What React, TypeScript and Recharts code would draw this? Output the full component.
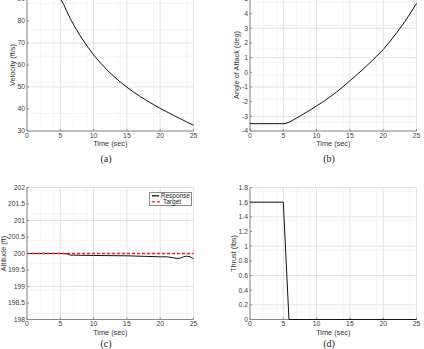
// Four-panel flight response: velocity, angle of attack, altitude hold, thrust.
import { CartesianGrid, Legend, Line, LineChart, XAxis, YAxis } from "recharts";

const timeTicks = [0, 5, 10, 15, 20, 25];

// (a) velocity
const velTime = [0, 5, 5.5, 6, 6.5, 7, 7.5, 8, 9, 10, 11, 12, 13, 14, 15, 16, 17, 18, 19, 20, 21, 22, 23, 24, 25];
const velocity = [90, 90, 87.6, 84.2, 81.1, 78.3, 75.7, 73.2, 68.7, 64.6, 61.0, 57.8, 54.9, 52.3, 49.9, 47.7, 45.7, 43.8, 42.0, 40.3, 38.7, 37.1, 35.6, 34.1, 32.6];
const velTicks = [30, 40, 50, 60, 70, 80, 90];

// (b) angle of attack
const aoaTime = [0, 5, 5.4, 6, 7, 8, 9, 10, 11, 12, 13, 14, 15, 16, 17, 18, 19, 20, 21, 22, 23, 24, 25];
const aoa = [-3.5, -3.5, -3.48, -3.37, -3.12, -2.85, -2.58, -2.29, -2.0, -1.68, -1.34, -0.97, -0.58, -0.18, 0.22, 0.65, 1.09, 1.55, 2.1, 2.68, 3.3, 3.97, 4.7];
const aoaTicks = [-4, -3, -2, -1, 0, 1, 2, 3, 4, 5];

// (c) altitude
const altTime = [0, 5, 6, 6.5, 7, 10, 15, 20, 21, 22, 22.5, 23, 23.5, 24, 24.5, 25];
const altitude = [200, 200, 199.99, 199.95, 199.95, 199.94, 199.93, 199.9, 199.9, 199.87, 199.85, 199.86, 199.9, 199.92, 199.9, 199.84];
const targetTime = [0, 25];
const targetAlt = [200, 200];
const altTicks = [198, 198.5, 199, 199.5, 200, 200.5, 201, 201.5, 202];

// (d) thrust
const thrustTime = [0, 5, 5.85, 25];
const thrust = [1.6, 1.6, 0, 0];
const thrustTicks = [0, 0.2, 0.4, 0.6, 0.8, 1, 1.2, 1.4, 1.6, 1.8];

const rows = (t: number[], v: number[], key: string) => t.map((x, i) => ({ t: x, [key]: v[i] }));

// minor grid: split each major interval
const minorOf = (ticks: number[], n: number) => {
  const out: number[] = [];
  for (let i = 0; i < ticks.length - 1; i++)
    for (let k = 1; k < n; k++) out.push(ticks[i] + ((ticks[i + 1] - ticks[i]) * k) / n);
  return out;
};

const SANS = "'Liberation Sans', Arial, sans-serif";
const tickStyle = { fontSize: 6.8, fill: "#404040", fontFamily: SANS };
const BOX = "#8a8a8a";

type Series = { data: any[]; key: string; name: string; color: string; dash?: string };

function Panel(props: {
  left: number;
  top: number;
  height: number;
  marginTop: number;
  marginBottom: number;
  yWidth: number;
  marginRight: number;
  yDomain: [number, number];
  yTicks: number[];
  yMinor: number;
  yTitle: string;
  yTitleX: number;
  series: Series[];
  legend?: boolean;
}) {
  const p = props;
  return (
    <div style={{ position: "absolute", left: p.left, top: p.top, width: 212, height: p.height }}>
      <LineChart
        width={212}
        height={p.height}
        margin={{ top: p.marginTop, right: p.marginRight, bottom: p.marginBottom, left: 0 }}
      >
        <CartesianGrid
          stroke="#ececec"
          strokeDasharray="1 1"
          verticalValues={minorOf(timeTicks, 5)}
          horizontalValues={minorOf(p.yTicks, p.yMinor)}
        />
        <CartesianGrid stroke="#e2e2e2" />
        <XAxis
          dataKey="t"
          type="number"
          domain={[0, 25]}
          ticks={timeTicks}
          height={25}
          tick={tickStyle}
          tickSize={-2}
          tickMargin={4}
          stroke={BOX}
          label={(lp: any) => {
            const vb = lp.viewBox;
            return (
              <text
                x={vb.x + vb.width / 2}
                y={vb.y + 12.5}
                textAnchor="middle"
                dominantBaseline="central"
                fontSize={7.3}
                fill="#333"
                fontFamily={SANS}
              >
                Time (sec)
              </text>
            );
          }}
        />
        <XAxis xAxisId="top" orientation="top" type="number" domain={[0, 25]} ticks={timeTicks} height={0} tick={false} tickSize={-2} stroke={BOX} />
        <YAxis
          type="number"
          domain={p.yDomain}
          ticks={p.yTicks}
          width={p.yWidth}
          tick={tickStyle}
          tickSize={-2}
          tickMargin={4}
          stroke={BOX}
          label={(lp: any) => {
            const vb = lp.viewBox;
            const cx = p.yTitleX;
            const cy = vb.y + vb.height / 2;
            return (
              <text
                x={cx}
                y={cy}
                transform={`rotate(-90 ${cx} ${cy})`}
                textAnchor="middle"
                dominantBaseline="central"
                fontSize={7.3}
                fill="#333"
                fontFamily={SANS}
              >
                {p.yTitle}
              </text>
            );
          }}
        />
        <YAxis yAxisId="right" orientation="right" type="number" domain={p.yDomain} ticks={p.yTicks} width={0} tick={false} tickSize={-2} stroke={BOX} />
        {p.series.map(s => (
          <Line
            key={s.key}
            data={s.data}
            dataKey={s.key}
            name={s.name}
            type="linear"
            stroke={s.color}
            strokeWidth={s.dash ? 1.3 : 1}
            strokeDasharray={s.dash}
            dot={false}
            isAnimationActive={false}
            {...({ zIndex: 600 } as any)}
          />
        ))}
        {p.legend && (
          <Legend
            layout="vertical"
            align="center"
            verticalAlign="middle"
            wrapperStyle={{ left: 149, top: 16.5, width: 43 }}
            content={() => (
              <div
                style={{
                  border: `1px solid ${BOX}`,
                  background: "#fff",
                  padding: "0.5px 1px",
                  fontFamily: SANS,
                  fontSize: 6.5,
                  lineHeight: "5.6px",
                  color: "#222",
                }}
              >
                {p.series.map(s => (
                  <div key={s.key} style={{ display: "flex", alignItems: "center" }}>
                    <svg width={10} height={5.6} style={{ marginRight: 2 }}>
                      <line x1={1} x2={10} y1={2.8} y2={2.8} stroke={s.color} strokeWidth={1.3} strokeDasharray={s.dash} />
                    </svg>
                    {s.name}
                  </div>
                ))}
              </div>
            )}
          />
        )}
      </LineChart>
    </div>
  );
}

const Caption = ({ x, y, text }: { x: number; y: number; text: string }) => (
  <div
    style={{
      position: "absolute",
      left: x - 20,
      top: y - 7,
      width: 40,
      lineHeight: "14px",
      textAlign: "center",
      fontFamily: "'Liberation Serif', serif",
      fontSize: 10,
      color: "#222",
    }}
  >
    {text}
  </div>
);

export default function App() {
  return (
    <div style={{ position: "absolute", left: 0, top: 0, width: 424, height: 349, overflow: "hidden", background: "#fff" }}>
      <Panel
        left={0}
        top={-11}
        height={175}
        marginTop={10}
        marginBottom={8}
        yWidth={27}
        marginRight={18.5}
        yDomain={[30, 90]}
        yTicks={velTicks}
        yMinor={5}
        yTitle="Velocity (ft/s)"
        yTitleX={12.5}
        series={[{ data: rows(velTime, velocity, "v"), key: "v", name: "Velocity", color: "#111" }]}
      />
      <Panel
        left={212}
        top={-11}
        height={175}
        marginTop={10}
        marginBottom={8}
        yWidth={38}
        marginRight={7.5}
        yDomain={[-4, 5]}
        yTicks={aoaTicks}
        yMinor={5}
        yTitle="Angle of Attack (deg)"
        yTitleX={24}
        series={[{ data: rows(aoaTime, aoa, "a"), key: "a", name: "AoA", color: "#111" }]}
      />
      <Panel
        left={0}
        top={175}
        height={174}
        marginTop={12.5}
        marginBottom={4.5}
        yWidth={27}
        marginRight={18.5}
        yDomain={[198, 202]}
        yTicks={altTicks}
        yMinor={5}
        yTitle="Altitude (ft)"
        yTitleX={3.2}
        legend
        series={[
          { data: rows(altTime, altitude, "alt"), key: "alt", name: "Response", color: "#111" },
          { data: rows(targetTime, targetAlt, "target"), key: "target", name: "Target", color: "#ff1a1a", dash: "3 2" },
        ]}
      />
      <Panel
        left={212}
        top={175}
        height={174}
        marginTop={12.5}
        marginBottom={4.5}
        yWidth={38}
        marginRight={7.5}
        yDomain={[0, 1.8]}
        yTicks={thrustTicks}
        yMinor={4}
        yTitle="Thrust (lbs)"
        yTitleX={21}
        series={[{ data: rows(thrustTime, thrust, "th"), key: "th", name: "Thrust", color: "#111" }]}
      />
      <Caption x={106} y={158.5} text="(a)" />
      <Caption x={329} y={158.5} text="(b)" />
      <Caption x={106} y={344} text="(c)" />
      <Caption x={329} y={344} text="(d)" />
    </div>
  );
}
